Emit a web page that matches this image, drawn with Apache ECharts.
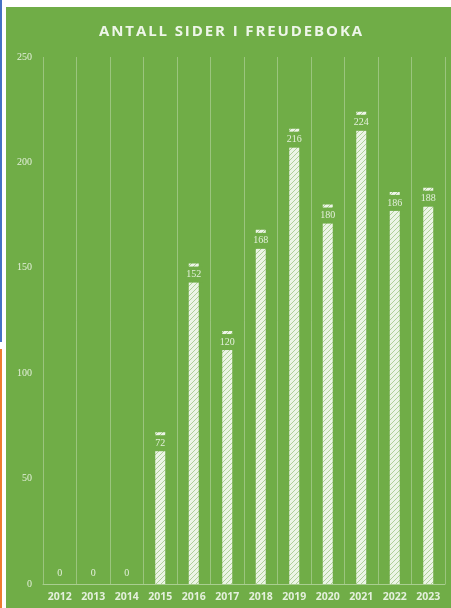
<!DOCTYPE html>
<html>
<head>
<meta charset="utf-8">
<script src="https://cdn.jsdelivr.net/npm/echarts@6/dist/echarts.min.js"></script>
<style>
  html, body { margin: 0; padding: 0; background: #ffffff; }
  #wrap { position: relative; width: 451px; height: 608px; overflow: hidden; }
  #panel { position: absolute; left: 6px; top: 7px; right: 0; bottom: 0; background: #70ad47; }
  #edgeBlue { position: absolute; left: 0; top: 0; width: 2px; height: 342px; background: #4472c4; }
  #edgeOrange { position: absolute; left: 0; top: 349px; width: 2px; bottom: 0; background: #ed7d31; }
  #chart { position: absolute; left: 0; top: 0; width: 451px; height: 608px; }
  #title {
    position: absolute; left: 6px; right: 0; top: 20px; text-align: center;
    padding-left: 6px;
    font-family: 'Open Sans', sans-serif; font-weight: bold; font-size: 15px;
    letter-spacing: 1.9px; color: #eef6e9; line-height: 20px; z-index: 2;
  }
</style>
</head>
<body>
<div id="wrap">
  <div id="panel"></div>
  <div id="edgeBlue"></div>
  <div id="edgeOrange"></div>
  <div id="chart"></div>
  <div id="title"></div>
</div>
<script>
// Pages in the Freude book per year
const years = ['2012', '2013', '2014', '2015', '2016', '2017', '2018', '2019', '2020', '2021', '2022', '2023'];
const pages = [0, 0, 0, 72, 152, 120, 168, 216, 180, 224, 186, 188];
const yTicks = { min: 0, max: 250, interval: 50 };
const titleText = 'ANTALL SIDER I FREUDEBOKA';

const GREEN = '#70ad47';
const LIGHT = '#e4f0dc';

document.getElementById('title').textContent = titleText;

// light hatched fill for the columns
function hatch() {
  const c = document.createElement('canvas');
  c.width = 5; c.height = 5;
  const g = c.getContext('2d');
  g.fillStyle = '#ecf4e6';
  g.fillRect(0, 0, 5, 5);
  g.strokeStyle = 'rgba(150,192,120,0.7)';
  g.lineWidth = 1;
  g.beginPath();
  g.moveTo(-1, 6); g.lineTo(6, -1);
  g.moveTo(-4, 4); g.lineTo(4, -4);
  g.moveTo(1, 9); g.lineTo(9, 1);
  g.stroke();
  return c;
}

const barData = pages.map(v => {
  if (v === 0) {
    return {
      value: v,
      label: { position: 'top', distance: 6, backgroundColor: 'transparent', padding: 0 }
    };
  }
  return { value: v };
});

const chart = echarts.init(document.getElementById('chart'), null, { renderer: 'canvas' });
chart.setOption({
  backgroundColor: 'transparent',
  animation: false,
  grid: { left: 43, right: 6, top: 57, bottom: 24 },
  xAxis: {
    type: 'category',
    data: years,
    axisLine: { lineStyle: { color: 'rgba(255,255,255,0.4)', width: 1 } },
    axisTick: { show: false },
    axisLabel: { color: LIGHT, fontFamily: 'Open Sans', fontWeight: 'bold', fontSize: 10.5, margin: 8 },
    splitLine: { show: true, lineStyle: { color: 'rgba(255,255,255,0.3)', width: 1 } }
  },
  yAxis: {
    type: 'value',
    min: yTicks.min, max: yTicks.max, interval: yTicks.interval,
    axisLine: { show: false },
    axisTick: { show: false },
    splitLine: { show: false },
    axisLabel: { color: LIGHT, fontFamily: 'Liberation Serif', fontSize: 10, margin: 11 }
  },
  series: [{
    type: 'bar',
    data: barData,
    barWidth: 10,
    itemStyle: { color: { image: hatch(), repeat: 'repeat' } },
    label: {
      show: true,
      position: 'insideTop',
      distance: 3,
      color: LIGHT,
      fontFamily: 'Liberation Serif',
      fontSize: 10,
      backgroundColor: GREEN,
      padding: [3, 1, 3, 1]
    }
  }]
});
</script>
</body>
</html>
